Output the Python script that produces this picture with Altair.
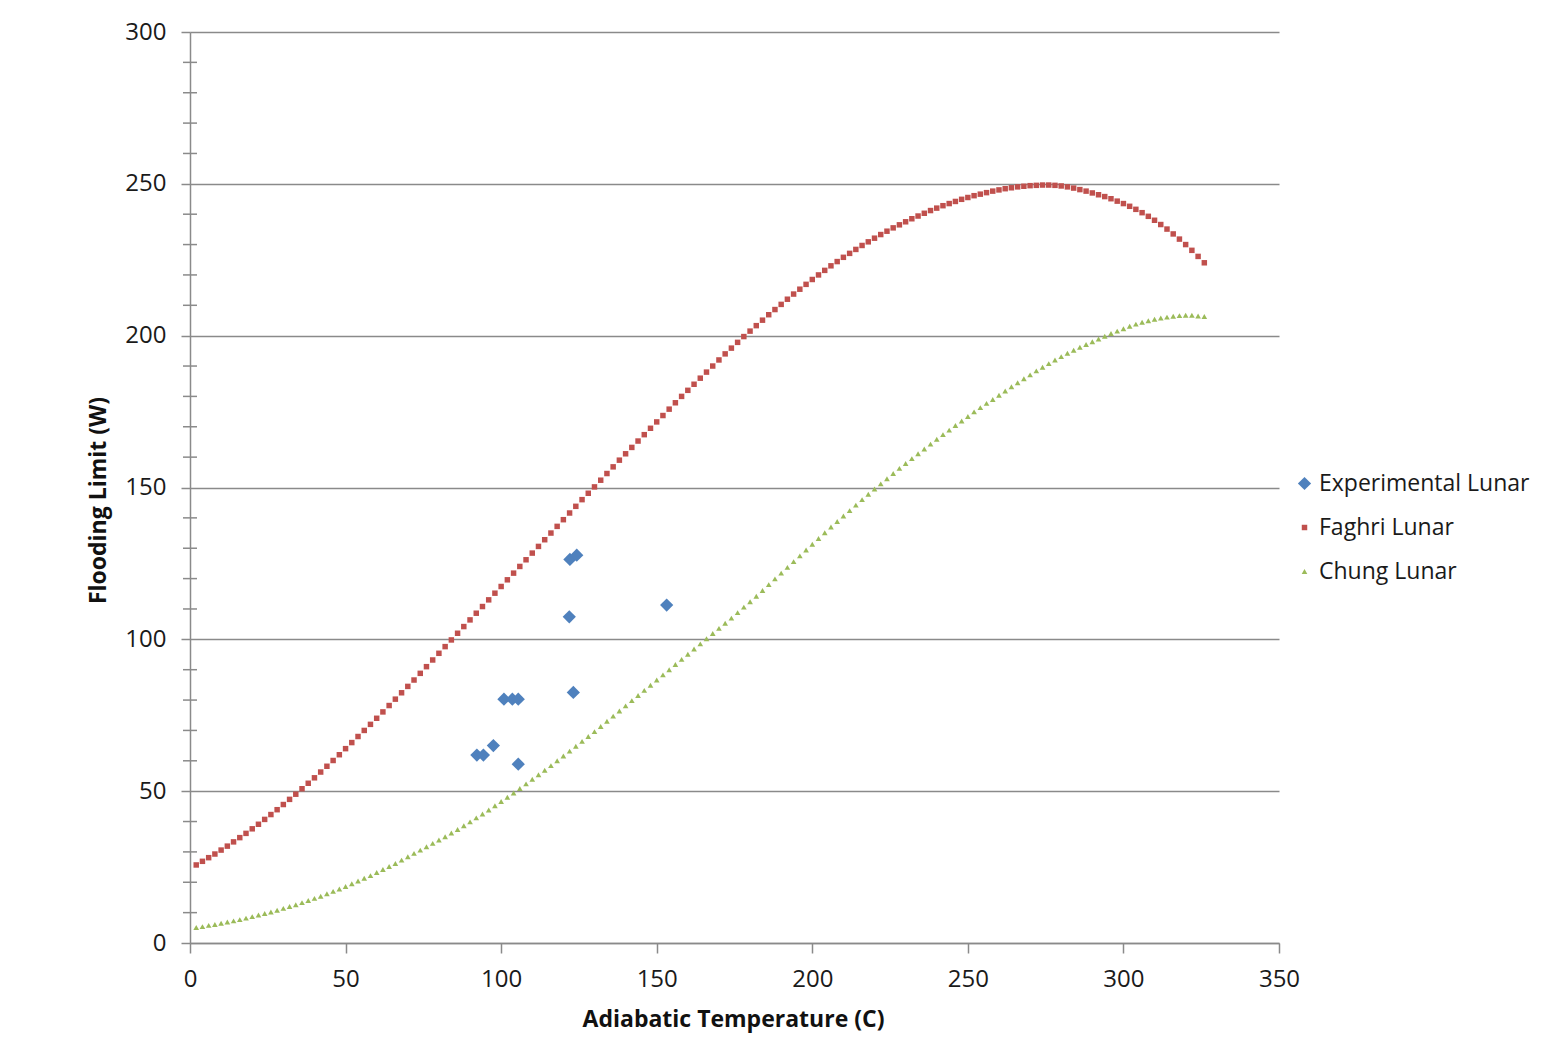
import altair as alt
import pandas as pd

series_names = ["Experimental Lunar", "Faghri Lunar", "Chung Lunar"]
series_colors = ["#4F81BD", "#C0504D", "#9BBB59"]

# model curves sampled every 2 C
model_temps = list(range(2, 327, 2))
faghri = [
    25.7, 26.9, 28.1, 29.3, 30.6, 31.9, 33.3, 34.7, 36.1, 37.6,
    39.1, 40.7, 42.3, 43.9, 45.6, 47.3, 49.0, 50.8, 52.6, 54.4,
    56.3, 58.2, 60.1, 62.0, 64.0, 66.0, 68.0, 70.0, 72.0, 74.0,
    76.1, 78.2, 80.3, 82.4, 84.5, 86.6, 88.8, 91.0, 93.2, 95.4,
    97.6, 99.8, 102.0, 104.2, 106.4, 108.6, 110.8, 113.0, 115.2, 117.4,
    119.6, 121.8, 124.0, 126.2, 128.4, 130.6, 132.8, 135.0, 137.2, 139.4,
    141.6, 143.8, 146.0, 148.1, 150.2, 152.4, 154.6, 156.8, 159.0, 161.1,
    163.2, 165.3, 167.4, 169.5, 171.6, 173.7, 175.8, 177.9, 180.0, 182.0,
    184.0, 186.0, 188.0, 190.0, 192.0, 194.0, 195.9, 197.8, 199.7, 201.5,
    203.3, 205.1, 206.9, 208.6, 210.3, 212.0, 213.7, 215.3, 216.9, 218.5,
    220.0, 221.5, 223.0, 224.4, 225.8, 227.1, 228.4, 229.7, 230.9, 232.1,
    233.3, 234.4, 235.5, 236.5, 237.5, 238.5, 239.4, 240.3, 241.2, 242.0,
    242.8, 243.5, 244.2, 244.9, 245.5, 246.1, 246.6, 247.1, 247.6, 248.0,
    248.4, 248.7, 249.0, 249.2, 249.4, 249.5, 249.6, 249.6, 249.5, 249.3,
    249.0, 248.6, 248.1, 247.6, 247.0, 246.4, 245.8, 245.1, 244.3, 243.5,
    242.6, 241.6, 240.5, 239.3, 238.0, 236.6, 235.1, 233.5, 231.8, 230.0,
    228.1, 226.1, 224.0,
]
chung = [
    5.1, 5.4, 5.8, 6.1, 6.5, 6.9, 7.3, 7.7, 8.2, 8.7,
    9.2, 9.7, 10.2, 10.8, 11.4, 12.0, 12.6, 13.3, 14.0, 14.7,
    15.4, 16.2, 17.0, 17.8, 18.6, 19.5, 20.4, 21.3, 22.2, 23.2,
    24.2, 25.2, 26.2, 27.3, 28.4, 29.5, 30.6, 31.7, 32.8, 33.9,
    35.0, 36.2, 37.4, 38.6, 39.9, 41.2, 42.5, 43.8, 45.2, 46.6,
    48.0, 49.4, 50.9, 52.4, 53.9, 55.4, 56.9, 58.4, 60.0, 61.6,
    63.2, 64.8, 66.4, 68.0, 69.6, 71.3, 73.0, 74.7, 76.4, 78.1,
    79.8, 81.5, 83.2, 84.9, 86.6, 88.3, 90.0, 91.7, 93.4, 95.1,
    96.8, 98.5, 100.2, 101.9, 103.6, 105.3, 107.0, 108.8, 110.6, 112.4,
    114.2, 116.1, 118.0, 119.9, 121.8, 123.7, 125.6, 127.5, 129.4, 131.3,
    133.2, 135.1, 137.0, 138.8, 140.6, 142.4, 144.2, 146.0, 147.8, 149.5,
    151.2, 152.9, 154.6, 156.3, 157.9, 159.5, 161.1, 162.7, 164.3, 165.9,
    167.4, 168.9, 170.4, 171.9, 173.4, 174.9, 176.3, 177.7, 179.0, 180.4,
    181.8, 183.2, 184.5, 185.8, 187.1, 188.4, 189.6, 190.8, 192.0, 193.1,
    194.2, 195.2, 196.2, 197.1, 198.0, 198.9, 199.8, 200.7, 201.5, 202.3,
    203.1, 203.8, 204.4, 204.9, 205.4, 205.8, 206.1, 206.4, 206.6, 206.7,
    206.7, 206.5, 206.3,
]

exp_temp = [92.2, 94.3, 97.5, 100.9, 103.6, 105.5, 105.5, 121.9, 122.1, 124.3, 123.2, 153.2]
exp_flood = [61.9, 61.9, 65.0, 80.3, 80.3, 80.3, 58.9, 107.4, 126.3, 127.7, 82.5, 111.3]

x_ticks = [0, 50, 100, 150, 200, 250, 300, 350]
y_ticks = [0, 50, 100, 150, 200, 250, 300]
y_minor = [v for v in range(10, 300, 10) if v % 50 != 0]

rows = []
for t, q in zip(model_temps, faghri):
    rows.append({"T": t, "Q": q, "series": "Faghri Lunar"})
for t, q in zip(model_temps, chung):
    rows.append({"T": t, "Q": q, "series": "Chung Lunar"})
for t, q in zip(exp_temp, exp_flood):
    rows.append({"T": t, "Q": q, "series": "Experimental Lunar"})
df = pd.DataFrame(rows)
minor_df = pd.DataFrame({"m": y_minor})

GREY = "#8a8a8a"
FONT = "Open Sans"

y_scale = alt.Scale(domain=[0, 300], nice=False)
y_axis = alt.Axis(
    values=y_ticks, grid=True, title="Flooding Limit (W)",
    tickSize=9, labelPadding=15, labelFlush=False,
    titleAngle=270, titleX=-92, titleY=468,
    titleAlign="center", titleBaseline="middle",
)

points = alt.Chart(df).mark_point(filled=True, opacity=1).encode(
    x=alt.X(
        "T:Q",
        scale=alt.Scale(domain=[0, 350], nice=False),
        axis=alt.Axis(
            values=x_ticks, grid=False, title="Adiabatic Temperature (C)",
            tickSize=10, labelPadding=26, labelBaseline="middle", labelFlush=False,
            titleX=543, titleY=76, titleBaseline="middle", titleAlign="center",
        ),
    ),
    y=alt.Y("Q:Q", scale=y_scale, axis=y_axis),
    color=alt.Color(
        "series:N",
        scale=alt.Scale(domain=series_names, range=series_colors),
        legend=alt.Legend(title=None),
    ),
    shape=alt.Shape(
        "series:N",
        scale=alt.Scale(domain=series_names, range=["diamond", "square", "triangle-up"]),
        legend=alt.Legend(title=None),
    ),
    size=alt.Size(
        "series:N",
        scale=alt.Scale(type="ordinal", domain=series_names, range=[175, 30, 32]),
        legend=alt.Legend(title=None),
    ),
)

minor = alt.Chart(minor_df).mark_rule(color=GREY, strokeWidth=1.5).encode(
    y=alt.Y("m:Q", scale=y_scale, axis=y_axis),
    x=alt.value(-7),
    x2=alt.value(7),
)

chart = alt.layer(points, minor).properties(
    width=1089,
    height=911,
    padding={"left": 182, "top": 24, "right": 256, "bottom": 90},
    autosize=alt.AutoSizeParams(type="none"),
    background="white",
).configure_view(
    stroke=None,
).configure_axis(
    domainColor=GREY, domainWidth=1.5,
    tickColor=GREY, tickWidth=1.5,
    gridColor=GREY, gridWidth=1.5,
    labelFont=FONT, labelFontSize=24, labelColor="#1a1a1a",
    titleFont=FONT, titleFontSize=23, titleFontWeight="bold", titleColor="#111111",
).configure_legend(
    orient="none", legendX=1103, legendY=440,
    labelFont=FONT, labelFontSize=23, labelColor="#1a1a1a", labelLimit=400,
    labelOffset=3, rowPadding=20, padding=0,
)

chart.save("out.html", embed_options={"renderer": "svg", "actions": False})
